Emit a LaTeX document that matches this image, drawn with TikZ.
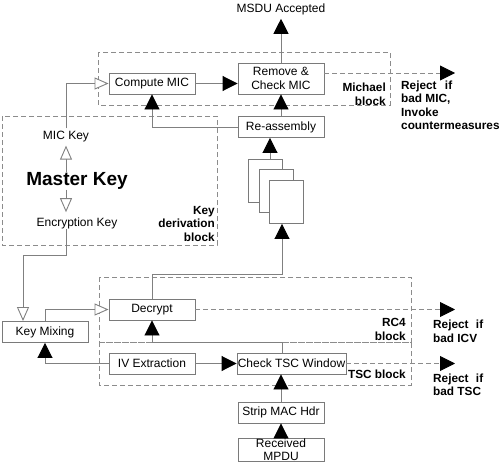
\documentclass[tikz,border=0pt]{standalone}
\usepackage{fontspec}
\setmainfont{Liberation Sans}
\usetikzlibrary{arrows.meta,calc}
\definecolor{boxgray}{HTML}{7A7A7A}
\definecolor{linegray}{HTML}{808080}
\definecolor{dashgray}{HTML}{8C8C8C}
\begin{document}
\begin{tikzpicture}[x=1pt,y=-1pt,
  box/.style={draw=boxgray, fill=white, line width=0.9pt, minimum width=86pt, minimum height=21pt, inner sep=0pt, font=\fontsize{12}{13.5}\selectfont, align=center},
  frag/.style={draw=boxgray, fill=white, line width=0.9pt, minimum width=34pt, minimum height=43pt, inner sep=0pt},
  conn/.style={draw=linegray, line width=0.9pt},
  solidarr/.style={conn, -{Triangle[length=15pt,width=15pt,color=black]}},
  openarr/.style={conn, -{Triangle[open,length=14pt,width=12pt,fill=white]}},
  dashbox/.style={draw=dashgray, line width=0.9pt, dash pattern=on 5pt off 3pt},
  dasharr/.style={dashbox, -{Triangle[length=15pt,width=15pt,color=black]}},
  lbl/.style={font=\bfseries\fontsize{11.8}{13.5}\selectfont, inner sep=0pt},
  txt/.style={font=\fontsize{12}{13.5}\selectfont, inner sep=0pt}
]
\useasboundingbox (0,0) rectangle (500,463);

% dashed block outlines
\draw[dashbox] (98,52) rectangle (390,105);
\draw[dashbox] (2,116) rectangle (217,245);
\draw[dashbox] (99,277) rectangle (411,342);
\draw[dashbox] (99,342) rectangle (411,385);

% block labels
\node[lbl, anchor=east, align=right] (lmich) at (386,94.5) {Michael\\block};
\node[lbl, anchor=east, align=right] (lkey) at (215,223.5) {Key\\derivation\\block};
\node[lbl, anchor=east, align=right] (lrc4) at (406,329.5) {RC4\\block};
\node[lbl, anchor=east] (ltsc) at (406,374) {TSC block};

% boxes
\node[box] (cmic) at (152,83.5) {Compute MIC};
\node[box, minimum height=31pt] (rmic) at (281,78.5) {Remove \&\\Check MIC};
\node[box] (reasm) at (281,127) {Re-assembly};
\node[txt] (msdu) at (281,9) {MSDU Accepted};

\node[frag] (f1) at (265,180.5) {};
\node[frag] (f2) at (276,190.5) {};
\node[frag] (f3) at (286.5,202) {};

\node[txt, inner sep=3pt] (mickey) at (66,137) {MIC Key};
\node[font=\bfseries\fontsize{19}{22}\selectfont, inner sep=0pt] (master) at (77,181) {Master Key};
\node[txt] (enckey) at (77,223) {Encryption Key};

\node[box] (keymix) at (45,332) {Key Mixing};
\node[box] (decrypt) at (152,309.5) {Decrypt};
\node[box] (ivx) at (152,363.5) {IV Extraction};
\node[box, minimum width=109pt] (ctsc) at (291.5,363.5) {Check TSC Window};
\node[box] (strip) at (281,412.5) {Strip MAC Hdr};
\node[box, minimum height=23pt, font=\fontsize{12}{12.5}\selectfont] (rx) at (281,449.5) {Received\\MPDU};

% reject labels
\node[lbl, anchor=west, align=left] (rej1t) at (401,105.5) {\makebox[51pt][s]{Reject if}\\bad MIC,\\Invoke\\countermeasures};
\node[lbl, anchor=west, align=left] (rej2t) at (433,331.5) {\makebox[50pt][s]{Reject if}\\bad ICV};
\node[lbl, anchor=west, align=left] (rej3t) at (433,385) {\makebox[50pt][s]{Reject if}\\bad TSC};

% coordinates
\coordinate (rej1) at (455,73);
\coordinate (rej2) at (455,309.5);
\coordinate (rej3) at (455,363.5);
\coordinate (k1) at (66,255);
\coordinate (c1) at (282,342);
\coordinate (d1) at (152,274);
\coordinate (d2) at (282,274);

% connectors
\draw[solidarr] (rmic.north) -- ([yshift=-4pt]msdu.south);
\draw[solidarr] (cmic.east) -- (cmic.east -| rmic.west);
\draw[solidarr] (reasm.north) -- (rmic.south);
\draw[solidarr] (reasm.west) -| (cmic.south);
\draw[openarr] (mickey.north) |- (cmic.west);
\draw[openarr] (master.north -| mickey.south) -- (mickey.south);
\draw[openarr, shorten >=5pt] (master.south -| mickey.south) -- (enckey.north -| mickey.south);
\draw[openarr] (enckey.south -| mickey.south) |- (k1) -| ([xshift=-22pt]keymix.north);
\draw[openarr] (keymix.north) |- (decrypt.west);
\draw[solidarr] (ivx.west) -| (keymix.south);
\draw[solidarr] (ivx.east) -- (ctsc.west);
\draw[solidarr] ([xshift=-9.5pt]ctsc.north) -- (c1) -| (decrypt.south);
\draw[solidarr] (decrypt.north) -- (d1) -- (d2) -- ([xshift=-4.5pt]f3.south);
\draw[solidarr] ([xshift=5pt]f1.north) -- ([xshift=5pt]f1.north |- reasm.south);
\draw[solidarr] (strip.north) -- (strip.north |- ctsc.south);
\draw[solidarr] (rx.north) -- (strip.south);
\draw[dasharr] ([yshift=5.5pt]rmic.east) -- (rej1);
\draw[dasharr] (decrypt.east) -- (rej2);
\draw[dasharr] (ctsc.east) -- (rej3);
\end{tikzpicture}
\end{document}
